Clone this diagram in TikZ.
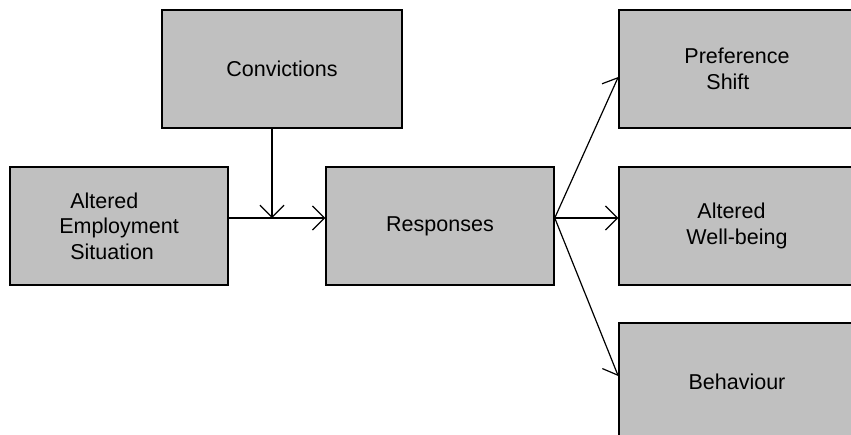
\documentclass[tikz,border=0pt]{standalone}
\usepackage{fontspec}
\setmainfont{Liberation Sans}
\usetikzlibrary{%
  positioning
 ,arrows.meta
 ,calc
}
\definecolor{boxgray}{RGB}{192,192,192}
\pgfdeclarelayer{bg}
\pgfsetlayers{bg,main}
\tikzstyle{blk}=[draw=black,line width=1.5pt,fill=boxgray,inner sep=0pt,minimum height=118pt,align=left,font=\fontsize{21.5}{25.5}\selectfont]
\tikzstyle{lnk}=[line width=1.2pt,-{Straight Barb[length=12pt,width=24pt]}]

\begin{document}
\begin{tikzpicture}[x=1pt,y=-1pt]
  \useasboundingbox (0,0) rectangle (851,434);
  \clip (0,0) rectangle (851,434);
  \node[blk,minimum width=240pt] (conv) at (282,69)  {Convictions};
  \node[blk,minimum width=218pt] (emp)  at (119,226) {\hspace*{11pt}Altered\\Employment\\\hspace*{11pt}Situation};
  \node[blk,minimum width=228pt] (resp) at (440,226) {Responses};
  \node[blk,minimum width=236pt] (pref) at (737,69)  {Preference\\\hspace*{22pt}Shift};
  \node[blk,minimum width=236pt] (well) at (737,226) {\hspace*{11pt}Altered\\Well-being};
  \node[blk,minimum width=236pt] (beh)  at (737,382) {Behaviour};
% 
  \coordinate (join) at (272,218);
  \coordinate (fork) at ([yshift=8pt]resp.east);
  \begin{pgfonlayer}{bg}
    \draw[lnk] (conv.south -| join) -- (join);
    \draw[lnk] ([yshift=8pt]emp.east) -- ([yshift=8pt]resp.west);
    \draw[lnk] (fork) -- ([yshift=-8pt]pref.west);
    \draw[lnk] (fork) -- ([yshift=8pt]well.west);
    \draw[lnk] (fork) -- ([yshift=6pt]beh.west);
  \end{pgfonlayer}
\end{tikzpicture}
\end{document}
